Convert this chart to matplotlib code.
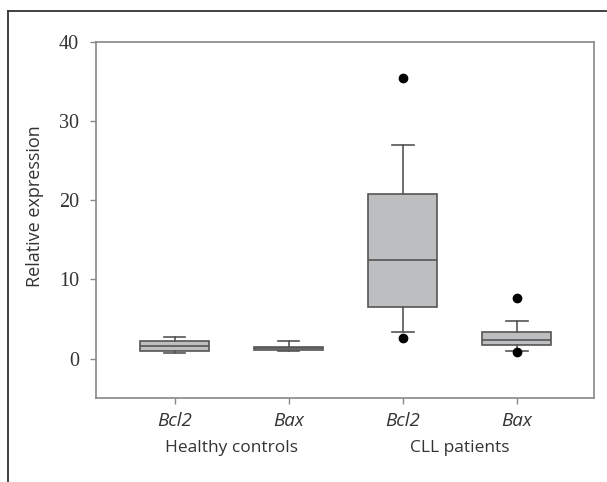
import matplotlib
matplotlib.use("Agg")
import matplotlib.pyplot as plt
from matplotlib.lines import Line2D

# Data
tick_labels = ["Bcl2", "Bax", "Bcl2", "Bax"]
group_labels = ["Healthy controls", "CLL patients"]
q1 = [0.95, 1.05, 6.5, 1.7]
med = [1.55, 1.3, 12.4, 2.3]
q3 = [2.2, 1.5, 20.8, 3.3]
whislo = [0.75, 0.9, 3.4, 1.0]
whishi = [2.7, 2.2, 27.0, 4.7]
fliers = [[], [], [35.5, 2.6], [7.6, 0.8]]

positions = [1, 2, 3, 4]

stats = []
for i in range(len(tick_labels)):
    stats.append(dict(q1=q1[i], med=med[i], q3=q3[i], whislo=whislo[i],
                      whishi=whishi[i], fliers=fliers[i], label=tick_labels[i]))

fig = plt.figure(figsize=(6.07, 4.82), dpi=100)
ax = fig.add_axes([0.158, 0.174, 0.821, 0.739])

edge = "#555555"
ax.bxp(stats, positions=positions, widths=0.6, capwidths=0.19,
       patch_artist=True, showfliers=True,
       boxprops=dict(facecolor="#bdbec0", edgecolor=edge, linewidth=1.2),
       medianprops=dict(color=edge, linewidth=1.2),
       whiskerprops=dict(color=edge, linewidth=1.2),
       capprops=dict(color=edge, linewidth=1.2),
       flierprops=dict(marker="o", markerfacecolor="black", markeredgecolor="black",
                       markersize=6, linestyle="none"))

ax.set_xlim(0.31, 4.68)
ax.set_ylim(-5, 40)
ax.set_yticks([0, 10, 20, 30, 40])
ax.set_xticks(positions)
ax.set_xticklabels(tick_labels, fontstyle="italic", fontfamily="Open Sans",
                   fontsize=13.5, color="#333333")
for lab in ax.get_yticklabels():
    lab.set_fontfamily("Liberation Serif")
    lab.set_fontsize(14.5)
    lab.set_color("#333333")

for sp in ax.spines.values():
    sp.set_color("#888888")
    sp.set_linewidth(1.2)
ax.tick_params(axis="both", direction="out", length=4, color="#888888", width=1)
ax.tick_params(axis="x", pad=6)
ax.tick_params(axis="y", pad=8)

# Group labels
ax.text(1.5, -0.141, group_labels[0], transform=ax.get_xaxis_transform(),
        ha="center", va="center", fontsize=12.5, fontfamily="Open Sans", color="#333333")
ax.text(3.5, -0.141, group_labels[1], transform=ax.get_xaxis_transform(),
        ha="center", va="center", fontsize=12.5, fontfamily="Open Sans", color="#333333")

fig.text(0.057, 0.573, "Relative expression", rotation=90, ha="center", va="center",
         fontsize=13, fontfamily="Open Sans", color="#333333")

# Outer frame (left and top lines)
fig.add_artist(Line2D([0.013, 0.013], [0.0, 0.977], color="#333333", linewidth=1.3,
                      transform=fig.transFigure))
fig.add_artist(Line2D([0.013, 1.0], [0.977, 0.977], color="#333333", linewidth=1.3,
                      transform=fig.transFigure))

fig.savefig("out.png", dpi=100)
